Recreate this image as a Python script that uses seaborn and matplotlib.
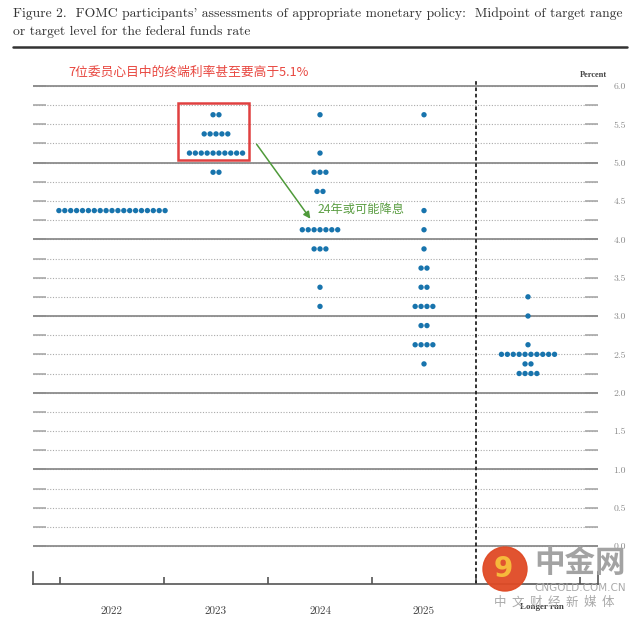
import numpy as np
import pandas as pd
import seaborn as sns
import matplotlib
matplotlib.use('Agg')
import matplotlib.pyplot as plt
from matplotlib.patches import Rectangle, Circle, FancyArrowPatch
from matplotlib.lines import Line2D

# FOMC dot plot: midpoint levels and number of participants at each level
columns = ['2022', '2023', '2024', '2025', 'Longer run']

levels_2022 = [4.375]
counts_2022 = [19]
levels_2023 = [5.625, 5.375, 5.125, 4.875]
counts_2023 = [2, 5, 10, 2]
levels_2024 = [5.625, 5.125, 4.875, 4.625, 4.125, 3.875, 3.375, 3.125]
counts_2024 = [1, 1, 3, 2, 7, 3, 1, 1]
levels_2025 = [5.625, 4.375, 4.125, 3.875, 3.625, 3.375, 3.125, 2.875, 2.625, 2.375]
counts_2025 = [1, 1, 1, 1, 2, 2, 4, 2, 4, 1]
levels_lr = [3.25, 3.0, 2.625, 2.5, 2.375, 2.25]
counts_lr = [1, 1, 1, 10, 2, 4]

y_major = np.arange(0, 6.01, 0.5)
y_minor = np.arange(0, 6.01, 0.25)

W, H = 640, 619
def fx(px):
    return px / W
def fy(py):
    return 1 - py / H

sns.set_style('white')
plt.rcParams['font.family'] = ['Noto Sans CJK SC', 'DejaVu Sans']

# dots side by side in each row, centred on the column
dot_step = 5.9 / 104
rows = []
all_levels = [levels_2022, levels_2023, levels_2024, levels_2025, levels_lr]
all_counts = [counts_2022, counts_2023, counts_2024, counts_2025, counts_lr]
for i, (lv, ct) in enumerate(zip(all_levels, all_counts)):
    for v, n in zip(lv, ct):
        for o in (np.arange(n) - (n - 1) / 2) * dot_step:
            rows.append({'x': i + o, 'rate': v})
df = pd.DataFrame(rows)

fig = plt.figure(figsize=(6.4, 6.19), dpi=100)
ax = fig.add_axes([fx(33), fy(584), (598 - 33) / W, (584 - 80) / H])

ylo, yhi = -38 / 76.667, 6 + 6 / 76.667
ax.set_ylim(ylo, yhi)
ax.set_xlim(-0.7596, 4.673)

ax.set_yticks(y_major)
ax.set_yticks(y_minor, minor=True)
ax.set_yticklabels([f'{v:.1f}' for v in y_major])
ax.grid(which='both', axis='y', ls=(0, (1, 1.5)), color='#aaaaaa', lw=0.8)
ax.grid(axis='x', visible=False)
for v in y_major[::2]:
    ax.axhline(v, color='#8c8c8c', lw=1.3, zorder=1)
ax.axvline(3.5, color='#222222', lw=1.3, ls=(0, (2, 1.5)), zorder=2)

sns.scatterplot(data=df, x='x', y='rate', color='#1874ad', s=15,
                edgecolor='none', ax=ax, zorder=3)
ax.set_xlabel('')
ax.set_ylabel('')

ax.tick_params(axis='y', which='both', left=True, right=True, labelleft=False,
               labelright=True, direction='in', length=9.5, width=1.2,
               color='#a8a8a8', labelcolor='#8a8a8a', labelsize=7, pad=11)
for lbl in ax.get_yticklabels():
    lbl.set_family('cmr10')

ax.set_xticks(np.arange(-0.5, 4.6, 1.0))
ax.set_xticklabels([])
ax.set_xticks(range(len(columns)), minor=True)
ax.set_xticklabels(columns[:-1] + [''], minor=True)
ax.tick_params(axis='x', which='major', bottom=True, direction='in',
               length=5, width=1.2, color='#555555')
ax.tick_params(axis='x', which='minor', bottom=True, length=0, pad=16,
               labelsize=8, labelcolor='#444444')
for lbl in ax.get_xticklabels(minor=True):
    lbl.set_family('cmr10')
fig.text(fx(542), fy(607), columns[-1], family='Liberation Serif', fontsize=6.5,
         weight='bold', color='#444444', ha='center', va='center')

for side in ['left', 'right', 'bottom']:
    ax.spines[side].set_color('#555555')
    ax.spines[side].set_linewidth(1.2)
ax.spines['top'].set_visible(False)
ax.spines['left'].set_bounds(ylo, ylo + 12 / 76.667)
ax.spines['right'].set_bounds(ylo, ylo + 12 / 76.667)

# title, justified to the rule width
t1 = fig.text(fx(13), fy(14), "Figure 2.  FOMC participants' assessments of appropriate monetary policy:  Midpoint of target range",
              family='cmr10', fontsize=9, color='#333333', va='center', ha='left')
renderer = fig.canvas.get_renderer()
bw = t1.get_window_extent(renderer).width
t1.set_fontsize(9 * 612 / bw)
fig.text(fx(13), fy(32), 'or target level for the federal funds rate',
         family='cmr10', fontsize=9 * 612 / bw, color='#333333', va='center', ha='left')
fig.add_artist(Line2D([fx(13), fx(627)], [fy(46.5), fy(46.5)], lw=1.8,
                      color='#333333', transform=fig.transFigure))
fig.text(fx(593), fy(75), 'Percent', family='Liberation Serif', fontsize=6,
         weight='bold', color='#444444', ha='center', va='center')

# annotations
fig.text(fx(68), fy(72), '7位委员心目中的终端利率甚至要高于5.1%', fontsize=9.2,
         color='#e8463f', family=['Noto Sans CJK SC', 'DejaVu Sans'], va='center')
fig.add_artist(Rectangle((fx(178), fy(160)), (249 - 178) / W, (160 - 103) / H,
                         transform=fig.transFigure, fill=False, ec='#e04040', lw=1.8))
fig.add_artist(FancyArrowPatch((fx(255), fy(142)), (fx(312), fy(221)),
                               transform=fig.transFigure, arrowstyle='-|>',
                               mutation_scale=10, color='#4f9a3a', lw=1.1))
fig.text(fx(318), fy(210), '24年或可能降息', fontsize=8.8, color='#5c9e44',
         family=['Noto Sans CJK SC', 'DejaVu Sans'], va='center')

# watermark
fig.add_artist(Circle((5.05, (619 - 569) / 100), 0.22, transform=fig.dpi_scale_trans,
                      color='#e04a25', alpha=0.95))
fig.text(fx(503), fy(569), '9', fontsize=20, weight='bold', color='#f6b93b',
         ha='center', va='center', family='DejaVu Sans')
fig.text(fx(580), fy(563), '中金网', fontsize=22, color='#a3a3a3', weight='bold',
         ha='center', va='center', family=['Noto Sans CJK SC', 'DejaVu Sans'])
fig.text(fx(580), fy(588), 'CNGOLD.COM.CN', fontsize=7.5, color='#aaaaaa',
         ha='center', va='center', family='DejaVu Sans')
fig.text(fx(554), fy(602), '中  文  财  经  新  媒  体', fontsize=9, color='#aaaaaa',
         ha='center', va='center', family=['Noto Sans CJK SC', 'DejaVu Sans'])

fig.savefig('out.png', dpi=100)
